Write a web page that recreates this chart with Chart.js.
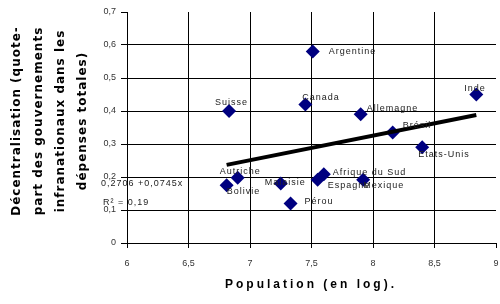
<!DOCTYPE html>
<html>
<head>
<meta charset="utf-8">
<script src="https://cdn.jsdelivr.net/npm/chart.js@4.4.0/dist/chart.umd.min.js"></script>
<style>
  html, body { margin: 0; padding: 0; background: #fff; }
  #wrap { width: 500px; height: 304px; }
</style>
</head>
<body>
<div id="wrap"><canvas id="scatter" width="500" height="304"></canvas></div>
<script>
// data
var countries = ['Argentine', 'Canada', 'Suisse', 'Allemagne', 'Inde', 'Brésil', 'Etats-Unis',
                 'Autriche', 'Bolivie', 'Malaisie', 'Pérou', 'Afrique du Sud', 'Espagne', 'Mexique'];
var popLog = [7.51, 7.45, 6.83, 7.90, 8.84, 8.16, 8.40, 6.90, 6.81, 7.25, 7.33, 7.60, 7.55, 7.92];
var decentral = [0.58, 0.42, 0.40, 0.39, 0.45, 0.335, 0.29, 0.198, 0.175, 0.18, 0.12, 0.208, 0.192, 0.192];
var trendIntercept = -0.2706;
var trendSlope = 0.0745;
var yTicks = ['0', '0,1', '0,2', '0,3', '0,4', '0,5', '0,6', '0,7'];
var xTicks = ['6', '6,5', '7', '7,5', '8', '8,5', '9'];

// label offsets (left edge / middle, relative to the point)
var labelOffsets = [[16, 0], [-3, -7], [-14, -8], [6, -6], [-12, -6], [10, -7], [-4, 7],
                    [-18, -6], [0, 6], [-16, -1], [14, -2], [9, -2], [10, 6], [0, 6]];

var points = popLog.map(function (x, i) { return { x: x, y: decentral[i] }; });
var xMin = Math.min.apply(null, popLog), xMax = Math.max.apply(null, popLog);
var trend = [xMin, xMax].map(function (x) { return { x: x, y: trendIntercept + trendSlope * x }; });

var extras = {
    id: 'extras',
    afterDatasetsDraw: function (chart) {
        var c = chart.ctx;
        var meta = chart.getDatasetMeta(1);
        c.save();
        c.font = '9px "Liberation Sans", Arial, sans-serif';
        c.letterSpacing = '1px';
        c.fillStyle = '#222';
        c.textBaseline = 'middle';
        c.textAlign = 'left';
        meta.data.forEach(function (el, i) {
            c.fillText(countries[i], el.x + labelOffsets[i][0], el.y + labelOffsets[i][1]);
        });
        // trend equation
        c.fillText('0,2706 +0,0745x', 101, 184);
        c.fillText('R² = 0,19', 103, 203);
        c.restore();
    },
    afterDraw: function (chart) {
        var c = chart.ctx;
        c.save();
        // y title, 4 rotated lines
        var lines = ['Décentralisation (quote-', 'part des gouvernements', 'infranationaux dans les', 'dépenses totales)'];
        c.font = 'bold 12px "DejaVu Sans", sans-serif';
        c.letterSpacing = '1px';
        c.fillStyle = '#000';
        c.textAlign = 'center';
        c.textBaseline = 'middle';
        lines.forEach(function (t, i) {
            c.save();
            c.translate(17 + i * 22, 121);
            c.rotate(-Math.PI / 2);
            c.fillText(t, 0, 0);
            c.restore();
        });
        // x title
        c.font = 'bold 12px "Liberation Sans", Arial, sans-serif';
        c.letterSpacing = '3px';
        c.fillText('Population (en log).', 311, 285);
        c.restore();
    }
};

new Chart(document.getElementById('scatter'), {
    type: 'scatter',
    data: {
        datasets: [{
            type: 'line',
            data: trend,
            borderColor: '#000',
            borderWidth: 4,
            pointRadius: 0,
            fill: false
        }, {
            data: points,
            pointStyle: 'rectRot',
            pointRadius: 7,
            pointHoverRadius: 7,
            backgroundColor: '#000080',
            borderColor: '#000080',
            borderWidth: 0
        }]
    },
    options: {
        responsive: false,
        devicePixelRatio: 1,
        animation: false,
        layout: { autoPadding: false, padding: { left: 0, top: 12, right: 4, bottom: 0 } },
        plugins: { legend: { display: false }, tooltip: { enabled: false } },
        scales: {
            x: {
                type: 'linear', min: 6, max: 9,
                afterFit: function (s) { s.height = 61; s.paddingRight = 0; s.paddingLeft = 0; },
                border: { display: true, color: '#000', width: 1 },
                grid: {
                    color: function (ctx) { return (ctx.tick && (ctx.tick.value === 9 || ctx.tick.value === 6)) ? 'rgba(0,0,0,0)' : '#000'; },
                    tickColor: '#000', tickLength: 5, lineWidth: 1
                },
                ticks: {
                    stepSize: 0.5, padding: 10, color: '#333',
                    font: { family: '"Liberation Sans", Arial, sans-serif', size: 9 },
                    callback: function (v, i) { return xTicks[i]; }
                }
            },
            y: {
                type: 'linear', min: 0, max: 0.7,
                afterFit: function (s) { s.width = 127; s.paddingTop = 0; s.paddingBottom = 0; },
                border: { display: true, color: '#000', width: 1 },
                grid: {
                    color: function (ctx) { return (ctx.tick && (ctx.index === 7 || ctx.index === 0)) ? 'rgba(0,0,0,0)' : '#000'; },
                    tickColor: '#000', tickLength: 6, lineWidth: 1
                },
                ticks: {
                    stepSize: 0.1, padding: 5, color: '#333',
                    font: { family: '"Liberation Sans", Arial, sans-serif', size: 9 },
                    callback: function (v, i) { return yTicks[i]; }
                }
            }
        }
    },
    plugins: [extras]
});
</script>
</body>
</html>
